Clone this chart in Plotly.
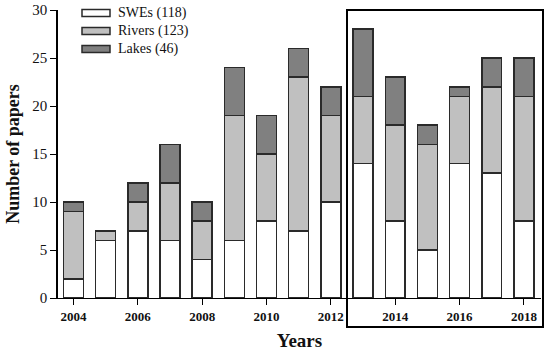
import plotly.graph_objects as go

years = list(range(2004, 2019))
swes = [2, 6, 7, 6, 4, 6, 8, 7, 10, 14, 8, 5, 14, 13, 8]
rivers = [7, 1, 3, 6, 4, 13, 7, 16, 9, 7, 10, 11, 7, 9, 13]
lakes = [1, 0, 2, 4, 2, 5, 4, 3, 3, 7, 5, 2, 1, 3, 4]
series_names = ["SWEs (118)", "Rivers (123)", "Lakes (46)"]
series_colors = ["#ffffff", "#c0c0c0", "#808080"]
tick_years = list(range(2004, 2019, 2))

FONT = "Liberation Serif"
W, H = 550, 353
L, R, T, B = 58, 9, 10, 55
pw, ph = W - L - R, H - T - B

fig = go.Figure()
for name, vals, col in zip(series_names, [swes, rivers, lakes], series_colors):
    fig.add_trace(go.Bar(
        x=years, y=vals, name=name, width=0.62,
        marker=dict(color=col, line=dict(color="#2a2a2a", width=1.5)),
        showlegend=False,
    ))

def px_x(px):
    return (px - L) / pw

def px_y(py):
    return (H - B - py) / ph

shapes = []
annotations = []
# manual legend
for i, (name, col) in enumerate(zip(series_names, series_colors)):
    cy = 13 + i * 18
    shapes.append(dict(type="rect", xref="paper", yref="paper",
                       x0=px_x(82), x1=px_x(110), y0=px_y(cy + 3.5), y1=px_y(cy - 3.5),
                       fillcolor=col, line=dict(color="#2a2a2a", width=1.5)))
    annotations.append(dict(xref="paper", yref="paper", x=px_x(116), y=px_y(cy),
                            text=name, showarrow=False, xanchor="left", yanchor="middle",
                            font=dict(family=FONT, size=14, color="#111")))
# highlight box
shapes.append(dict(type="rect", xref="paper", yref="paper",
                   x0=px_x(347), x1=px_x(543), y0=px_y(327), y1=px_y(10),
                   line=dict(color="black", width=2), fillcolor="rgba(0,0,0,0)", layer="above"))

fig.update_layout(
    barmode="stack",
    width=W, height=H,
    margin=dict(l=L, r=R, t=T, b=B, autoexpand=False),
    plot_bgcolor="white", paper_bgcolor="white",
    font=dict(family=FONT, color="#111"),
    shapes=shapes, annotations=annotations,
    xaxis=dict(range=[2003.52, 2018.53], tickvals=tick_years, ticktext=[str(y) for y in tick_years],
               showgrid=False, zeroline=False, showline=True, linecolor="black", linewidth=1,
               ticks="outside", ticklen=6, tickcolor="black", automargin=False,
               tickfont=dict(family=FONT, size=13, color="#111", weight="bold"),
               title=dict(text="<b>Years</b>", font=dict(family=FONT, size=19), standoff=11)),
    yaxis=dict(range=[0, 30], tickvals=[0, 5, 10, 15, 20, 25, 30],
               showgrid=False, zeroline=False, showline=True, linecolor="black", linewidth=1.5,
               ticks="outside", ticklen=6, tickcolor="black", automargin=False,
               tickfont=dict(family=FONT, size=15, color="#111"),
               title=dict(text="<b>Number of papers</b>", font=dict(family=FONT, size=18), standoff=8)),
)

fig.write_html("out.html", config={"displayModeBar": False},
               post_script="document.body.style.margin='0';document.body.style.padding='0';")
